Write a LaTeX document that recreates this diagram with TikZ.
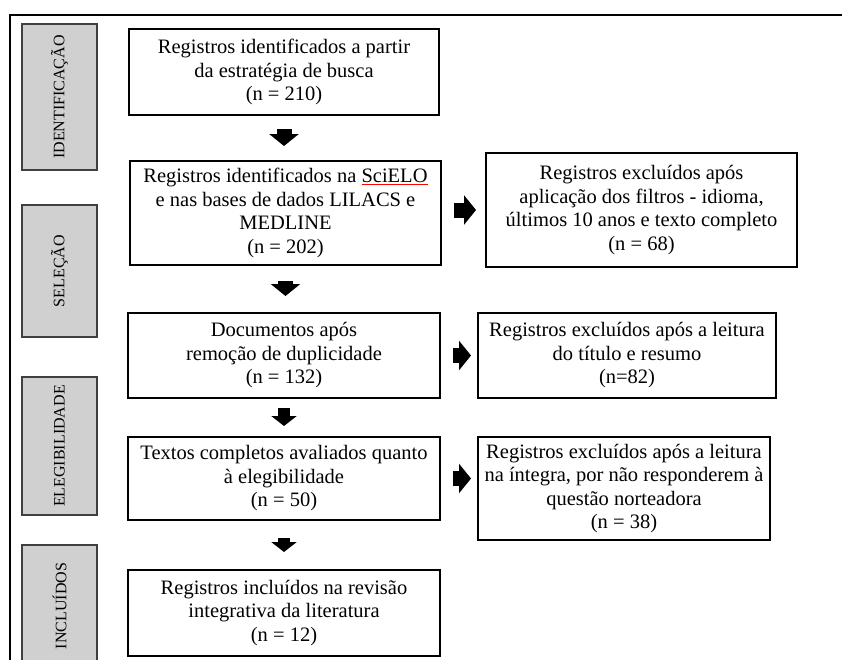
\documentclass[tikz,border=0pt]{standalone}
\usepackage{fontspec}
\setmainfont{Liberation Serif}
\usetikzlibrary{arrows.meta}
\definecolor{sidegray}{RGB}{208,208,208}

\begin{document}
\begin{tikzpicture}[x=1pt,y=-1pt,
	box/.style={draw, line width=2pt, align=center, inner sep=0pt, font=\fontsize{20.5}{23.5}\selectfont},
	side/.style={draw=black!75, line width=1.5pt, fill=sidegray, rotate=90, minimum height=75pt, font=\fontsize{16}{18}\selectfont},
	blockarrow/.style={line width=15pt, -{Triangle[width=29pt,length=12pt]}},
	smallarrow/.style={line width=12pt, -{Triangle[width=25pt,length=10pt]}}]
	\useasboundingbox (0,0) rectangle (842,659);
	\clip (0,0) rectangle (842,659);
	\draw[line width=1.5pt] (10,680) -- (10,15) -- (860,15);

	% phases
	\node[side, minimum width=146pt] (ident) at (59.5,97) {IDENTIFICAÇÃO};
	\node[side, minimum width=132pt] (sel) at (59.5,271) {SELEÇÃO};
	\node[side, minimum width=138pt] (eleg) at (59.5,446) {ELEGIBILIDADE};
	\node[side, minimum width=122pt] (incl) at (59.5,606) {INCLUÍDOS};

	% main column
	\node[box, minimum width=310pt, minimum height=86pt] (b1) at (284,72) {Registros identificados a partir\\da estratégia de busca\\(n = 210)};
	\node[box, minimum width=311pt, minimum height=104pt] (b2) at (285.5,213) {Registros identificados na {\color{red}\underline{\color{black}SciELO}}\\e nas bases de dados LILACS e\\MEDLINE\\(n = 202)};
	\node[box, minimum width=312pt, minimum height=85pt] (b3) at (284,355.5) {Documentos após\\remoção de duplicidade\\(n = 132)};
	\node[box, minimum width=312pt, minimum height=83pt] (b4) at (284,478.5) {Textos completos avaliados quanto\\à elegibilidade\\(n = 50)};
	\node[box, minimum width=312pt, minimum height=86pt] (b5) at (284,613) {Registros incluídos na revisão\\integrativa da literatura\\(n = 12)};

	% excluded
	\node[box, minimum width=311pt, minimum height=114pt] (r1) at (641.5,210) {Registros excluídos após\\aplicação dos filtros - idioma,\\últimos 10 anos e texto completo\\(n = 68)};
	\node[box, minimum width=298pt, minimum height=85pt] (r2) at (627,355.5) {Registros excluídos após a leitura\\do título e resumo\\(n=82)};
	\node[box, minimum width=292pt, minimum height=103pt] (r3) at (624,488.5) {Registros excluídos após a leitura\\na íntegra, por não responderem à\\questão norteadora\\(n = 38)};

	\draw[blockarrow, shorten <=13pt, shorten >=14pt] (b1.south) -- (b1.south |- b2.north);
	\draw[blockarrow, shorten <=15pt, shorten >=16pt] (b2.south) -- (b2.south |- b3.north);
	\draw[smallarrow, shorten <=9pt, shorten >=10pt] (b3.south) -- (b3.south |- b4.north);
	\draw[smallarrow, shorten <=17pt, shorten >=17pt] (b4.south) -- (b4.south |- b5.north);
	\draw[blockarrow, shorten <=12pt, shorten >=9pt] (b2.east |- r1.west) -- (r1.west);
	\draw[blockarrow, shorten <=12pt, shorten >=6pt] (b3.east) -- (b3.east -| r2.west);
	\draw[blockarrow, shorten <=12pt, shorten >=6pt] (b4.east) -- (b4.east -| r3.west);
\end{tikzpicture}
\end{document}
